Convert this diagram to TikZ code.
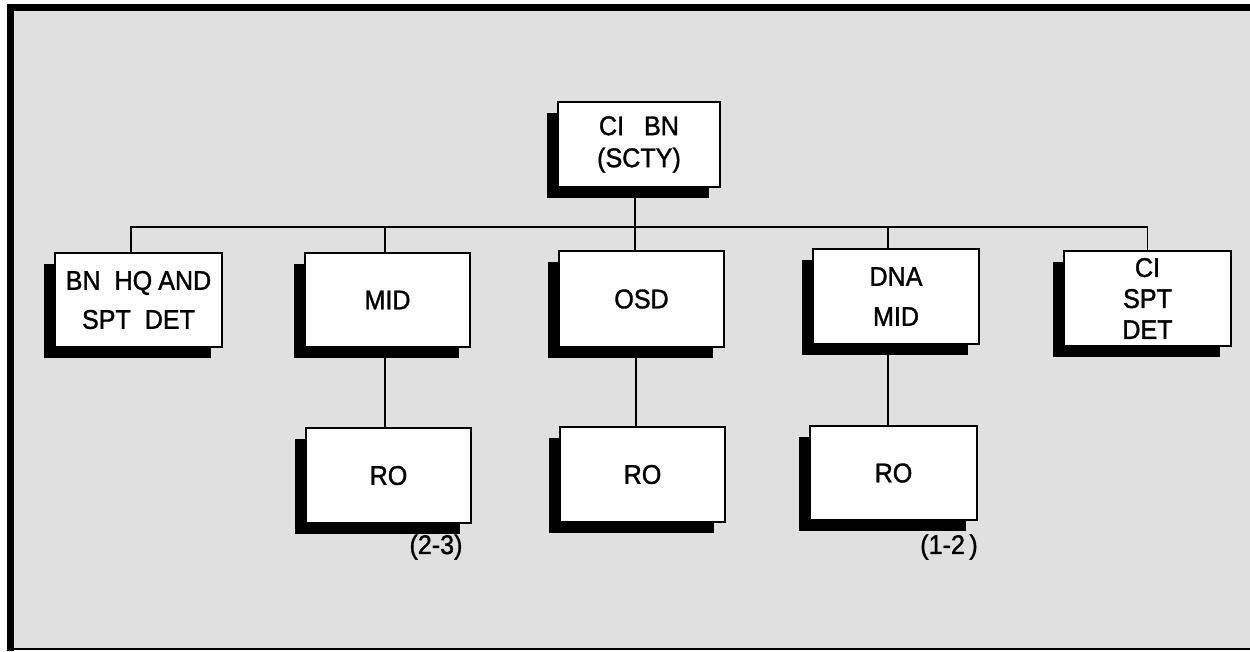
\documentclass[tikz,border=0pt]{standalone}
\usepackage{fontspec}
\setmainfont{Liberation Sans}[FakeStretch=0.93, FakeBold=1.3]
\usetikzlibrary{shadows,calc}
\begin{document}
\begin{tikzpicture}[x=1pt,y=-1pt,
  orgbox/.style={draw=black, line width=1.6pt, fill=white, inner sep=0pt,
    align=center, font=\fontsize{27}{31}\selectfont,
    drop shadow={shadow xshift=-11pt, shadow yshift=-11pt, fill=black, opacity=1}},
  conn/.style={draw=black, line width=1.3pt},
  note/.style={font=\fontsize{27}{30}\selectfont, inner sep=0pt}]
\useasboundingbox (0,0) rectangle (1250,651);
% background and frame
\fill[black!12] (10,8) rectangle (1250,649);
\draw[line width=7pt, line join=miter] (10,651) -- (10,7) -- (1250,7);
\draw[line width=1.5pt] (10,649) -- (1250,649);
% boxes
\node[orgbox, minimum width=162pt, minimum height=85pt] (ci) at (639,144.5) {CI\hspace{20pt}BN\\[1pt](SCTY)};
\node[orgbox, minimum width=167pt, minimum height=94pt] (bn) at (138.5,300) {BN\ \ HQ\kern6pt AND\\[8pt]SPT\ \ DET};
\node[orgbox, minimum width=165pt, minimum height=94pt] (mid) at (387.5,300) {MID};
\node[orgbox, minimum width=165pt, minimum height=96pt] (osd) at (641.5,299) {OSD};
\node[orgbox, minimum width=166pt, minimum height=95pt] (dna) at (896,296.5) {DNA\\[9pt]MID};
\node[orgbox, minimum width=167pt, minimum height=95pt] (cispt) at (1147.5,298.5) {CI\\SPT\\DET};
\node[orgbox, minimum width=165pt, minimum height=95pt] (ro1) at (388.5,475.5) {RO};
\node[orgbox, minimum width=165pt, minimum height=95pt] (ro2) at (642.5,474.5) {RO};
\node[orgbox, minimum width=167pt, minimum height=94pt] (ro3) at (893.5,473) {RO};
% labels
\node[note] (n23) at (436,547) {(2-3)};
\node[note] (n12) at (949,547) {(1-2\,)};
% connectors
\coordinate (bus) at (635,227);
\draw[conn] ([xshift=-4pt]ci.south) -- (bus);
\draw[conn] (bus) -| ([xshift=-7.5pt]bn.north);
\draw[conn] (bus) -| ([xshift=-2.5pt]mid.north);
\draw[conn] (bus) -- ([xshift=-6.5pt]osd.north);
\draw[conn] (bus) -| ([xshift=-8pt]dna.north);
\draw[conn] (bus) -| (cispt.north);
\draw[conn] ([xshift=-2.5pt]mid.south) -- ([xshift=-2.5pt]mid.south |- ro1.north);
\draw[conn] ([xshift=-5.5pt]osd.south) -- ([xshift=-5.5pt]osd.south |- ro2.north);
\draw[conn] ([xshift=-8pt]dna.south) -- ([xshift=-8pt]dna.south |- ro3.north);
\end{tikzpicture}
\end{document}
